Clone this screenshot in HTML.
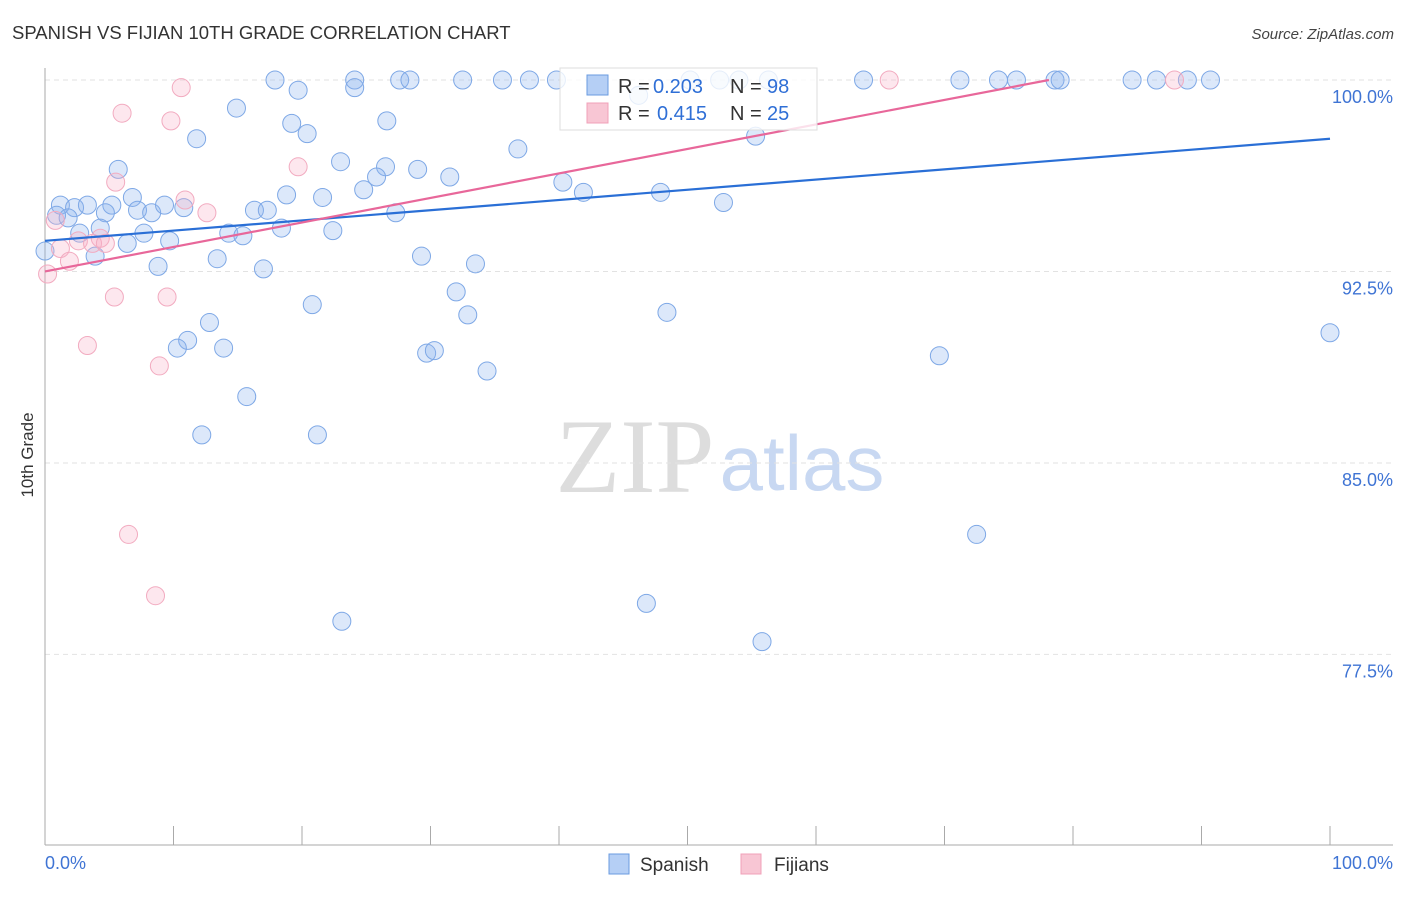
<!DOCTYPE html>
<html><head><meta charset="utf-8"><style>
body{margin:0;background:#fff;font-family:"Liberation Sans",sans-serif}
</style></head><body>
<svg id="chart" width="1406" height="892" xmlns="http://www.w3.org/2000/svg" style="font-family:'Liberation Sans',sans-serif">
<text x="12" y="39" font-size="18.5" fill="#333">SPANISH VS FIJIAN 10TH GRADE CORRELATION CHART</text>
<text x="1394" y="39" font-size="15" fill="#444" font-style="italic" text-anchor="end">Source: ZipAtlas.com</text>
<g>
<text x="635" y="492" font-size="106" fill="#ddd" font-family="'Liberation Serif',serif" text-anchor="middle">ZIP</text>
<text x="802" y="490" font-size="78" fill="#c8d8f2" text-anchor="middle">atlas</text>
</g>
<g id="grid"></g>
<g id="axes"></g>
<g id="points"></g>
<g id="trends"></g>
<text transform="translate(33,455) rotate(-90)" font-size="17" fill="#333" text-anchor="middle">10th Grade</text>
<g font-size="20">
<rect x="560" y="68" width="257" height="62" fill="#fff" fill-opacity="0.8" stroke="#ddd"/>
<rect x="587" y="75" width="21" height="20" fill="#b5cff5" stroke="#6a9be0"/>
<text x="618" y="93" fill="#333">R =</text><text x="653" y="93" fill="#2f6fd6">0.203</text>
<text x="730" y="93" fill="#333">N =</text><text x="767" y="93" fill="#2f6fd6">98</text>
<rect x="587" y="103" width="21" height="20" fill="#f8c6d4" stroke="#f0a0b8"/>
<text x="618" y="120" fill="#333">R =</text><text x="657" y="120" fill="#2f6fd6">0.415</text>
<text x="730" y="120" fill="#333">N =</text><text x="767" y="120" fill="#2f6fd6">25</text>
</g>
<g>
<rect x="609" y="854" width="20" height="20" fill="#b5cff5" stroke="#6a9be0"/>
<text x="640" y="871" font-size="19" fill="#333">Spanish</text>
<rect x="741" y="854" width="20" height="20" fill="#f8c6d4" stroke="#f0a0b8"/>
<text x="774" y="871" font-size="19" fill="#333">Fijians</text>
</g>
</svg>
<script>
const yTicks=[100,92.5,85,77.5];
const yTickLabels=["100.0%","92.5%","85.0%","77.5%"];
const xTickCount=10;
const spanishX=[17.9,24.1,27.6,28.4,32.5,35.6,37.7,39.8,43.0,50.2,52.5,56.3,63.7,71.2,74.2,75.6,78.6,79.0,84.6,86.5,88.9,90.7,19.7,24.1,14.9,19.2,20.4,26.6,11.8,36.8,55.3,5.7,23.0,26.5,25.8,29.0,31.5,24.8,18.8,21.6,40.3,41.9,47.9,52.8,1.2,2.3,3.3,5.2,6.8,7.2,8.3,9.3,10.8,4.7,0.9,1.8,16.3,17.3,27.3,4.3,7.7,14.3,15.4,18.4,22.4,2.7,6.4,9.7,3.9,13.4,8.8,17.0,29.3,33.5,0,32.0,20.8,32.9,48.4,12.8,11.1,10.3,13.9,29.7,30.3,34.4,69.6,100,15.7,12.2,21.2,72.5,46.8,23.1,55.8,46.2,54.0];
const spanishY=[100,100,100,100,100,100,100,100,99.8,100,100,100,100,100,100,100,100,100,100,100,100,100,99.6,99.7,98.9,98.3,97.9,98.4,97.7,97.3,97.8,96.5,96.8,96.6,96.2,96.5,96.2,95.7,95.5,95.4,96.0,95.6,95.6,95.2,95.1,95.0,95.1,95.1,95.4,94.9,94.8,95.1,95.0,94.8,94.7,94.6,94.9,94.9,94.8,94.2,94.0,94.0,93.9,94.2,94.1,94.0,93.6,93.7,93.1,93.0,92.7,92.6,93.1,92.8,93.3,91.7,91.2,90.8,90.9,90.5,89.8,89.5,89.5,89.3,89.4,88.6,89.2,90.1,87.6,86.1,86.1,82.2,79.5,78.8,78.0,99.4,100];
const fijianX=[10.6,6.0,9.8,19.7,5.5,10.9,12.6,0.8,4.3,2.6,3.7,4.7,1.2,1.9,0.2,5.4,9.5,3.3,8.9,6.5,8.6,65.7,87.9];
const fijianY=[99.7,98.7,98.4,96.6,96.0,95.3,94.8,94.5,93.8,93.7,93.6,93.6,93.4,92.9,92.4,91.5,91.5,89.6,88.8,82.2,79.8,100,100];
const spanishTrend=[93.7,97.7];
const fijianTrend=[92.5,102.1];
const NS="http://www.w3.org/2000/svg";
const X0=45,X1=1330,YTOP=80,PPU=25.53;
const xs=v=>X0+(X1-X0)*v/100;
const ys=v=>YTOP+(100-v)*PPU;
function mk(tag,at,parent){const e=document.createElementNS(NS,tag);for(const k in at)e.setAttribute(k,at[k]);document.getElementById(parent).appendChild(e);return e;}
yTicks.forEach((t,i)=>{
 const l=mk('line',{x1:X0,x2:1393,y1:ys(t),y2:ys(t),stroke:'#e2e2e2','stroke-dasharray':'5,4'},'grid');
 
 
 const tx=mk('text',{x:1393,y:ys(t)+23,'font-size':18,fill:'#3f74d4','text-anchor':'end'},'grid');
 tx.textContent=yTickLabels[i];
 
 
});
let a=mk('line',{x1:X0,x2:X0,y1:68,y2:845,stroke:'#aaa'},'axes');


a=mk('line',{x1:X0,x2:1393,y1:845,y2:845,stroke:'#aaa'},'axes');


for(let i=0;i<=xTickCount;i++){
 const t=mk('line',{x1:xs(i*100/xTickCount),x2:xs(i*100/xTickCount),y1:826,y2:845,stroke:'#aaa'},'axes');
 
 
}
let t=mk('text',{x:45,y:869,'font-size':18,fill:'#3f74d4'},'axes');t.textContent='0.0%';


t=mk('text',{x:1393,y:869,'font-size':18,fill:'#3f74d4','text-anchor':'end'},'axes');t.textContent='100.0%';


spanishX.forEach((v,i)=>{
 const c=mk('circle',{cx:xs(v),cy:ys(spanishY[i]),r:9,fill:'rgba(140,180,240,0.3)',stroke:'#7ea8e6','stroke-width':1},'points');
 
 
});
fijianX.forEach((v,i)=>{
 const c=mk('circle',{cx:xs(v),cy:ys(fijianY[i]),r:9,fill:'rgba(248,175,200,0.3)',stroke:'#f2abc0','stroke-width':1},'points');
 
 
});
let l=mk('line',{x1:xs(0),y1:ys(spanishTrend[0]),x2:xs(100),y2:ys(spanishTrend[1]),stroke:'#2a6fd6','stroke-width':2.2},'trends');


const fx=(100-fijianTrend[0])/(fijianTrend[1]-fijianTrend[0])*100;
l=mk('line',{x1:xs(0),y1:ys(fijianTrend[0]),x2:xs(fx),y2:ys(100),stroke:'#e8679a','stroke-width':2.2},'trends');


</script>
</body></html>
